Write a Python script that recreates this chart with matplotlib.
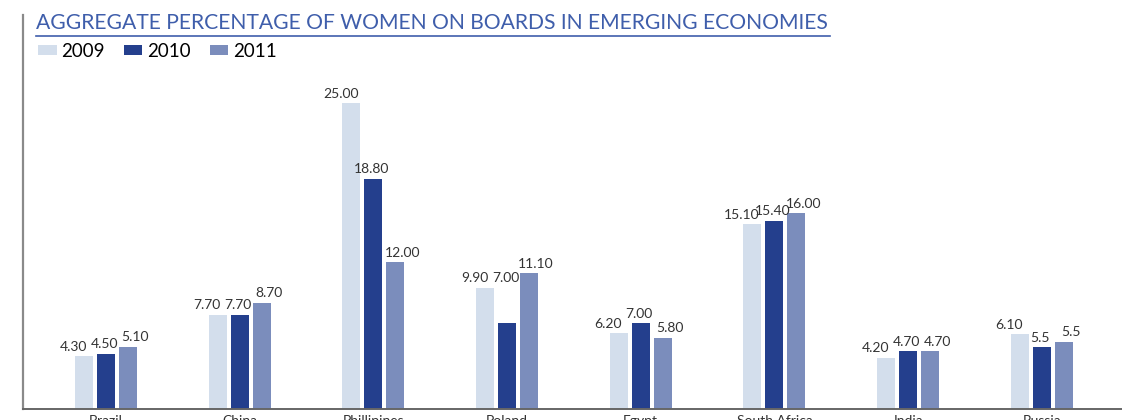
import matplotlib
matplotlib.use("Agg")
import matplotlib.pyplot as plt
import numpy as np
from matplotlib.lines import Line2D

# data
countries = ["Brazil", "China", "Phillipines", "Poland", "Egypt", "South Africa", "India", "Russia"]
years = ["2009", "2010", "2011"]
vals_2009 = [4.30, 7.70, 25.00, 9.90, 6.20, 15.10, 4.20, 6.10]
vals_2010 = [4.50, 7.70, 18.80, 7.00, 7.00, 15.40, 4.70, 5.05]
vals_2011 = [5.10, 8.70, 12.00, 11.10, 5.80, 16.00, 4.70, 5.50]
labels_2009 = ["4.30", "7.70", "25.00", "9.90", "6.20", "15.10", "4.20", "6.10"]
labels_2010 = ["4.50", "7.70", "18.80", "7.00", "7.00", "15.40", "4.70", "5.5"]
labels_2011 = ["5.10", "8.70", "12.00", "11.10", "5.80", "16.00", "4.70", "5.5"]

colors = ["#d3deec", "#243f8d", "#7b8dbc"]
title_blue = "#3f5eab"
text_col = "#333333"

plt.rcParams['font.family'] = ['Lato', 'DejaVu Sans']

fig = plt.figure(figsize=(11.22, 4.2), dpi=100)
ax = fig.add_axes([23 / 1122, 11 / 420, 1 - 23 / 1122, (409 - 15) / 420])

x = np.arange(len(countries))
width = 0.135
step = 0.1645
series = [vals_2009, vals_2010, vals_2011]
label_sets = [labels_2009, labels_2010, labels_2011]
dx_pts = [-7.5, -1, 5]  # labels fan out a little so they don't collide

for i, (vals, labs) in enumerate(zip(series, label_sets)):
    pos = x + (i - 1) * step
    ax.bar(pos, vals, width=width, color=colors[i], label=years[i], zorder=2)
    for j, (p, v, lab) in enumerate(zip(pos, vals, labs)):
        y = v
        # Poland 2010 label sits up with its neighbour in the original
        if countries[j] == "Poland" and i == 1:
            y = vals_2009[j]
        ax.annotate(lab, (p, y), xytext=(dx_pts[i], 4), textcoords="offset points",
                    ha="center", va="baseline", fontsize=10, color=text_col)

ax.set_xlim(-0.621, 7.6)
ax.set_ylim(0, 32.2)
ax.set_xticks(x)
ax.set_xticklabels(countries, fontsize=10, color=text_col)
ax.tick_params(axis="x", length=0, pad=4)
ax.set_yticks([])
for s in ["top", "right"]:
    ax.spines[s].set_visible(False)
ax.spines["left"].set_color("#8a8a8a")
ax.spines["left"].set_linewidth(1.6)
ax.spines["bottom"].set_color("#666666")
ax.spines["bottom"].set_linewidth(1.4)

# title with underline
fig.text(36 / 1122, 1 - 29 / 420, "AGGREGATE PERCENTAGE OF WOMEN ON BOARDS IN EMERGING ECONOMIES",
         fontsize=15.2, color=title_blue, va="baseline", ha="left")
fig.add_artist(Line2D([36 / 1122, 830 / 1122], [1 - 36 / 420, 1 - 36 / 420],
                      color=title_blue, linewidth=1.2, transform=fig.transFigure))

fig.legend(loc="upper left", bbox_to_anchor=(38 / 1122, 1 - 43 / 420), ncol=3, frameon=False,
           fontsize=13.5, handlelength=1.0, handleheight=0.42, handletextpad=0.25,
           columnspacing=1.0, borderpad=0, borderaxespad=0)

fig.savefig("out.png", dpi=100)
